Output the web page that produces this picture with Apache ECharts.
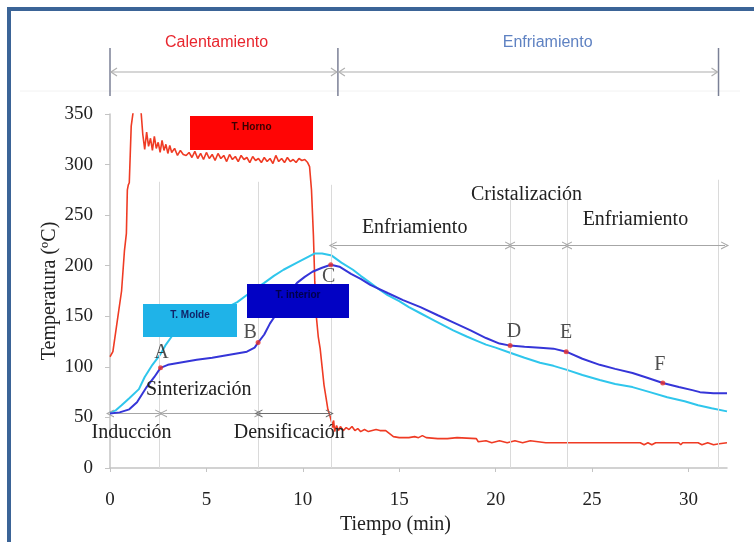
<!DOCTYPE html>
<html>
<head>
<meta charset="utf-8">
<script src="https://cdn.jsdelivr.net/npm/echarts@6/dist/echarts.min.js"></script>
<style>
html,body{margin:0;padding:0;background:#fff;}
#chart{width:754px;height:542px;}
</style>
</head>
<body>
<div id="chart"></div>
<script>
// ---------- DATA ----------
const hornoData = [[0,110],[0.15,115],[0.3,135],[0.45,155],[0.6,175],[0.75,215],[0.85,232],[0.9,275],[0.95,280],[1.0,282],[1.05,310],[1.1,338],[1.2,352],[1.3,368],[1.45,368],[1.55,362],[1.62,350],[1.7,330],[1.8,315],[1.9,332],[2.0,318],[2.1,326],[2.2,314],[2.3,328],[2.4,316],[2.5,322],[2.6,312],[2.7,324],[2.8,314],[2.9,320],[3.0,311],[3.1,319],[3.2,312],[3.35,316],[3.5,309],[3.65,314],[3.8,310],[3.95,309],[4.1,312],[4.25,307],[4.4,313],[4.55,306],[4.7,311],[4.85,305],[5.0,312],[5.15,306],[5.3,310],[5.45,304],[5.6,311],[5.75,306],[5.9,309],[6.05,303],[6.2,310],[6.35,305],[6.5,308],[6.65,303],[6.8,309],[6.95,305],[7.1,307],[7.25,302],[7.4,308],[7.55,304],[7.7,306],[7.85,302],[8.0,307],[8.15,303],[8.3,306],[8.45,301],[8.6,309],[8.75,303],[8.9,306],[9.05,302],[9.2,307],[9.35,303],[9.5,305],[9.65,302],[9.8,306],[9.95,304],[10.1,305],[10.25,302],[10.35,298],[10.45,275],[10.55,230],[10.62,185],[10.7,150],[10.8,130],[10.9,118],[11.0,100],[11.1,82],[11.2,70],[11.3,58],[11.4,52],[11.5,45],[11.55,40],[11.6,47],[11.65,36],[11.75,42],[11.85,37],[11.95,41],[12.1,37],[12.25,40],[12.4,38],[12.55,41],[12.7,37],[12.85,39],[13.0,36],[13.2,38],[13.4,36],[13.6,37],[13.8,38],[14.0,37],[14.3,37],[14.5,34],[14.7,31],[15.0,30],[15.5,30],[15.8,31],[16.0,30],[16.2,32],[16.4,30],[17.0,29],[17.5,29],[18.0,30],[18.1,29],[19.0,29],[19.1,26],[19.5,27],[19.8,25],[20.2,27],[20.6,25],[21.0,27],[21.4,25],[21.8,27],[22.2,26],[22.6,25],[23.0,25],[25,25],[27.5,25],[27.7,23],[27.9,25],[28.1,23],[28.3,25],[29.5,25],[29.6,23],[29.7,25],[30.5,25],[30.7,23],[31.0,25],[31.3,23],[31.6,24],[32,25]];
const moldeData = [[0,55],[0.3,57],[0.6,62],[1.0,69],[1.5,78],[1.8,90],[2.2,102],[2.6,112],[2.9,122],[3.2,130],[3.8,137],[4.5,144],[5.2,151],[6.0,158],[6.6,164],[7.1,171],[8.0,183],[8.5,190],[9.0,196],[9.7,203],[10.2,208],[10.6,212],[11.0,212],[11.5,210],[12.0,203],[12.6,196],[13.0,190],[13.5,183],[14.0,176],[14.4,171],[15.0,165],[15.5,159],[16.1,153],[16.8,146],[17.4,140],[17.8,136],[18.5,130],[19.0,126],[19.5,122],[20.0,119],[20.75,114],[21.5,109],[22.3,104],[23.0,101],[23.7,97],[24.5,92],[25.4,87],[26.2,83],[27.1,80],[28.0,75],[28.9,70],[29.8,66],[30.5,62],[31.2,59],[32,56]];
const interiorData = [[0,54],[0.5,55],[1.0,58],[1.4,65],[1.9,80],[2.3,90],[2.62,99],[3.0,102],[3.6,104],[4.5,107],[5.3,109],[6.2,112],[7.1,115],[7.5,119],[7.68,124],[8.0,132],[8.3,143],[8.55,150],[9.0,165],[9.4,176],[9.7,183],[10.1,189],[10.5,194],[11.0,198],[11.45,201],[11.9,199],[12.5,192],[13.0,187],[13.5,181],[14.4,173],[15.2,166],[16.1,159],[17.0,151],[17.8,144],[18.7,136],[19.5,128.5],[20.2,123],[20.75,121],[21.5,120],[22.3,119],[23.0,118],[23.66,115],[24.5,108],[25.4,102],[26.2,98],[27.1,94],[27.9,89],[28.67,84],[29.5,80],[30.2,77],[30.6,75],[31.3,74],[32,74]];

const puntosNombres = ['A','B','C','D','E','F'];
const puntosTiempo = [2.62, 7.68, 11.45, 20.75, 23.66, 28.67];
const puntosTemp = [99, 124, 201, 121, 115, 84];

const lineasFase = [2.55, 7.7, 11.45, 20.75, 23.7, 31.55];
const lineasFaseTope = [283, 283, 280, 265, 265, 285];

const flechasInferiores = [[0, 2.55], [2.75, 7.7], [7.7, 11.4]];
const flechasInferioresTemp = 54;
const flechasSuperiores = [[11.55, 20.7], [20.8, 23.65], [23.75, 31.9]];
const flechasSuperioresTemp = 220;

const etapasNombres = ['Inducción', 'Sinterización', 'Densificación', 'Enfriamiento', 'Cristalización', 'Enfriamiento'];
const etapasTiempo = [1.12, 4.6, 9.3, 15.8, 21.6, 27.25];
const etapasTemp = [34.5, 77, 34.5, 238, 270, 245];

const procesoNombres = ['Calentamiento', 'Enfriamiento'];
const procesoLimites = [0, 11.82, 31.56];
const procesoCentro = [5.53, 22.7];

const xTicks = [0, 5, 10, 15, 20, 25, 30];
const yTicks = [0, 50, 100, 150, 200, 250, 300, 350];

// ---------- STYLE ----------
const serif = 'Liberation Serif';
const letraOffsets = [[1,-15],[-8,-10],[-2,12],[4,-14],[0,-19],[-3,-18]];
const chevron = 'path://M0,10 L5,0 L10,10 L8.6,10 L5,2.8 L1.4,10 Z';

const chart = echarts.init(document.getElementById('chart'), null, {renderer: 'canvas'});

const vLines = lineasFase.map((t, i) => [
  {coord: [t, 0], symbol: 'none'},
  {coord: [t, lineasFaseTope[i]], symbol: 'none'}
]);
const arrowLine = (pair, temp, color) => [
  {coord: [pair[0], temp], lineStyle: {color: color, width: 1.2}},
  {coord: [pair[1], temp]}
];

const option = {
  animation: false,
  backgroundColor: '#ffffff',
  grid: {left: 110, right: 27, top: 114, bottom: 74},
  xAxis: {
    type: 'value', min: 0, max: 32, interval: 5,
    name: 'Tiempo (min)', nameLocation: 'middle', nameGap: 40,
    nameTextStyle: {fontFamily: serif, fontSize: 20, color: '#222', padding: [0, 46, 0, 0]},
    axisLine: {lineStyle: {color: '#c4c4c4', width: 1.5}},
    axisTick: {show: true, length: 4, lineStyle: {color: '#c4c4c4'}},
    axisLabel: {fontFamily: serif, fontSize: 19, color: '#222', margin: 23, showMaxLabel: false,
      formatter: v => xTicks.indexOf(v) >= 0 ? String(v) : ''},
    splitLine: {show: false}
  },
  yAxis: {
    type: 'value', min: 0, max: 350, interval: 50,
    name: 'Temperatura (ºC)', nameLocation: 'middle', nameGap: 50, nameMoveOverlap: false,
    nameTextStyle: {fontFamily: serif, fontSize: 20, color: '#222'},
    axisLine: {show: true, lineStyle: {color: '#c4c4c4', width: 1.5}},
    axisTick: {show: true, length: 5, lineStyle: {color: '#c4c4c4'}},
    axisLabel: {fontFamily: serif, fontSize: 19, color: '#222', margin: 17,
      formatter: v => yTicks.indexOf(v) >= 0 ? String(v) : ''},
    splitLine: {show: false}
  },
  series: [
    {
      name: 'T. Horno', type: 'line', data: hornoData, showSymbol: false, z: 3,
      lineStyle: {color: '#ef3b24', width: 1.6}, itemStyle: {color: '#ef3b24'}
    },
    {
      name: 'T. Molde', type: 'line', data: moldeData, showSymbol: false, z: 4,
      lineStyle: {color: '#2fc6ec', width: 2}, itemStyle: {color: '#2fc6ec'}
    },
    {
      name: 'T. interior', type: 'line', data: interiorData, showSymbol: false, z: 5,
      lineStyle: {color: '#3535d8', width: 2}, itemStyle: {color: '#3535d8'}
    },
    {
      name: 'Puntos', type: 'scatter', z: 6, symbolSize: 5,
      itemStyle: {color: '#e8302a'},
      data: puntosNombres.map((n, i) => ({
        name: n, value: [puntosTiempo[i], puntosTemp[i]],
        label: {show: true, formatter: n, position: 'inside', offset: letraOffsets[i],
          fontFamily: serif, fontSize: 20, color: '#222'}
      })),
      markLine: {
        silent: true, animation: false,
        label: {show: false},
        symbol: 'none',
        lineStyle: {color: '#dadada', width: 1, type: 'solid'},
        data: vLines
      }
    },
    {
      name: 'Flechas', type: 'line', data: [], z: 7,
      markLine: {
        silent: true, animation: false,
        label: {show: false},
        symbol: [chevron, chevron], symbolSize: 8,
        lineStyle: {color: '#a6a6a6', width: 1.2, type: 'solid'},
        data: [
          arrowLine(flechasInferiores[0], flechasInferioresTemp, '#a6a6a6'),
          arrowLine(flechasInferiores[1], flechasInferioresTemp, '#a6a6a6'),
          arrowLine(flechasInferiores[2], flechasInferioresTemp, '#6e6e6e'),
          arrowLine(flechasSuperiores[0], flechasSuperioresTemp, '#a6a6a6'),
          arrowLine(flechasSuperiores[1], flechasSuperioresTemp, '#a6a6a6'),
          arrowLine(flechasSuperiores[2], flechasSuperioresTemp, '#a6a6a6')
        ]
      }
    }
  ]
};
chart.setOption(option);

// ---------- ANNOTATIONS (positioned through the axes) ----------
const P = (t, v) => chart.convertToPixel({gridIndex: 0}, [t, v]);
const X = t => chart.convertToPixel({xAxisIndex: 0}, t);
const g = [];

// frame
g.push({type: 'rect', z: 200, shape: {x: 9, y: 9, width: 800, height: 600},
  style: {fill: 'none', stroke: '#3b6497', lineWidth: 4}});
// faint separator
g.push({type: 'line', z: 1, shape: {x1: 20, y1: 91, x2: 740, y2: 91}, style: {stroke: '#f2f2f2', lineWidth: 1}});

// top process arrows
const topY = 72;
procesoLimites.forEach(t => {
  const x = X(t);
  g.push({type: 'line', z: 50, shape: {x1: x, y1: 48, x2: x, y2: 96}, style: {stroke: '#7b8096', lineWidth: 1.5}});
});
for (let i = 0; i < procesoLimites.length - 1; i++) {
  const x1 = X(procesoLimites[i]) + 1, x2 = X(procesoLimites[i + 1]) - 1;
  g.push({type: 'line', z: 50, shape: {x1: x1, y1: topY, x2: x2, y2: topY}, style: {stroke: '#c8c8c8', lineWidth: 1.5}});
  g.push({type: 'polyline', z: 50, shape: {points: [[x1 + 6, topY - 4], [x1, topY], [x1 + 6, topY + 4]]}, style: {stroke: '#b0b0b0', lineWidth: 1.2, fill: 'none'}});
  g.push({type: 'polyline', z: 50, shape: {points: [[x2 - 6, topY - 4], [x2, topY], [x2 - 6, topY + 4]]}, style: {stroke: '#b0b0b0', lineWidth: 1.2, fill: 'none'}});
}
const procesoColores = ['#e8262e', '#5f82c2'];
procesoNombres.forEach((n, i) => {
  g.push({type: 'text', z: 50, x: X(procesoCentro[i]), y: 43,
    style: {text: n, fill: procesoColores[i], font: '16px "Liberation Sans"', align: 'center', verticalAlign: 'middle'}});
});

// stage labels
etapasNombres.forEach((n, i) => {
  const p = P(etapasTiempo[i], etapasTemp[i]);
  g.push({type: 'text', z: 60, x: p[0], y: p[1],
    style: {text: n, fill: '#222', font: '20px "Liberation Serif"', align: 'center', verticalAlign: 'middle'}});
});

// legend boxes
const cajas = [
  {nombre: 'T. Horno', x: 190, y: 116, w: 123, h: 34, fill: '#ff0505', txt: '#3a0000', ty: 127},
  {nombre: 'T. Molde', x: 143, y: 304, w: 94, h: 33, fill: '#1fb3e8', txt: '#10246a', ty: 315},
  {nombre: 'T. interior', x: 247, y: 284, w: 102, h: 34, fill: '#0202c4', txt: '#00004a', ty: 295}
];
cajas.forEach(c => {
  g.push({type: 'rect', z: 100, shape: {x: c.x, y: c.y, width: c.w, height: c.h}, style: {fill: c.fill}});
  g.push({type: 'text', z: 101, x: c.x + c.w / 2, y: c.ty,
    style: {text: c.nombre, fill: c.txt, font: 'bold 10px "Liberation Sans"', align: 'center', verticalAlign: 'middle'}});
});

chart.setOption({graphic: g});
</script>
</body>
</html>
